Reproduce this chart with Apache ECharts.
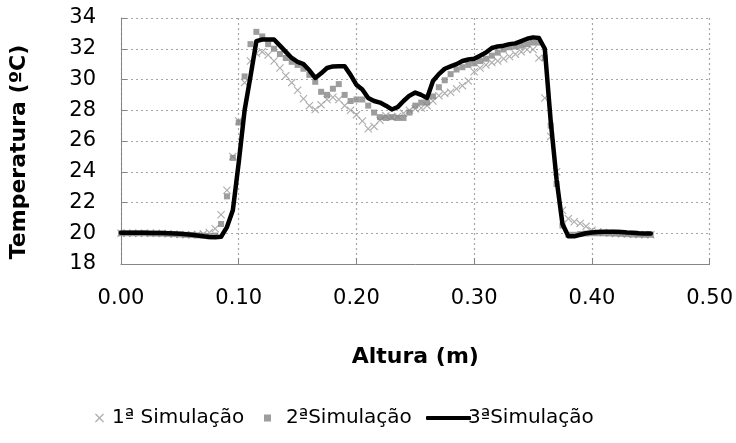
<!DOCTYPE html>
<html>
<head>
<meta charset="utf-8">
<script src="https://cdn.jsdelivr.net/npm/echarts@6/dist/echarts.min.js"></script>
<style>
  html, body { margin: 0; padding: 0; background: #fff; }
  #chart { width: 736px; height: 443px; }
</style>
</head>
<body>
<div id="chart"></div>
<script>
// Altura (m) sample positions
var alturas = [
  0.000, 0.005, 0.010, 0.015, 0.020, 0.025, 0.030, 0.035, 0.040, 0.045,
  0.050, 0.055, 0.060, 0.065, 0.070, 0.075, 0.080, 0.085, 0.090, 0.095,
  0.100, 0.105, 0.110, 0.115, 0.120, 0.125, 0.130, 0.135, 0.140, 0.145,
  0.150, 0.155, 0.160, 0.165, 0.170, 0.175, 0.180, 0.185, 0.190, 0.195,
  0.200, 0.205, 0.210, 0.215, 0.220, 0.225, 0.230, 0.235, 0.240, 0.245,
  0.250, 0.255, 0.260, 0.265, 0.270, 0.275, 0.280, 0.285, 0.290, 0.295,
  0.300, 0.305, 0.310, 0.315, 0.320, 0.325, 0.330, 0.335, 0.340, 0.345,
  0.350, 0.355, 0.360, 0.365, 0.370, 0.375, 0.380, 0.385, 0.390, 0.395,
  0.400, 0.405, 0.410, 0.415, 0.420, 0.425, 0.430, 0.435, 0.440, 0.445,
  0.450
];

// Temperatura (ºC) — 1ª Simulação
var sim1 = [
  20.00, 20.00, 20.00, 20.00, 20.00, 20.00, 20.00, 19.98, 19.96, 19.94,
  19.92, 19.90, 19.90, 19.92, 19.95, 20.05, 20.30, 21.20, 22.80, 25.00,
  27.30, 29.80, 31.20, 31.70, 31.80, 31.60, 31.20, 30.75, 30.25, 29.80,
  29.30, 28.75, 28.30, 28.05, 28.35, 28.70, 28.85, 28.70, 28.30, 28.00,
  27.70, 27.30, 26.80, 26.95, 27.35, 27.65, 27.55, 27.60, 27.80, 28.00,
  28.10, 28.15, 28.30, 28.60, 28.95, 29.10, 29.17, 29.40, 29.60, 29.90,
  30.50, 30.75, 30.95, 31.10, 31.20, 31.35, 31.50, 31.65, 31.80, 31.95,
  31.95, 31.40, 28.80, 26.30, 24.00, 21.50, 20.95, 20.75, 20.64, 20.45,
  20.20, 20.10, 20.05, 20.00, 19.98, 19.96, 19.95, 19.93, 19.92, 19.90,
  19.90
];

// Temperatura (ºC) — 2ªSimulação
var sim2 = [
  20.00, 20.00, 20.00, 20.00, 20.00, 19.99, 19.98, 19.97, 19.96, 19.94,
  19.92, 19.90, 19.88, 19.86, 19.84, 19.80, 19.85, 20.60, 22.40, 24.90,
  27.20, 30.20, 32.30, 33.10, 32.80, 32.30, 32.00, 31.66, 31.40, 31.15,
  30.95, 30.70, 30.30, 29.85, 29.20, 29.00, 29.40, 29.70, 29.00, 28.60,
  28.70, 28.70, 28.30, 27.85, 27.55, 27.50, 27.55, 27.50, 27.50, 27.85,
  28.30, 28.50, 28.50, 28.90, 29.50, 29.95, 30.35, 30.65, 30.80, 30.95,
  31.05, 31.20, 31.35, 31.55, 31.75, 31.95, 32.10, 32.15, 32.20, 32.30,
  32.40, 32.40, 31.40, 27.00, 23.20, 20.50, 19.90, 19.90, 19.95, 19.98,
  20.00, 20.00, 20.00, 19.99, 19.98, 19.96, 19.94, 19.92, 19.91, 19.90,
  19.90
];

// Temperatura (ºC) — 3ªSimulação
var sim3 = [
  20.03, 20.03, 20.03, 20.03, 20.03, 20.02, 20.02, 20.01, 20.00, 19.99,
  19.97, 19.94, 19.90, 19.85, 19.80, 19.76, 19.74, 19.77, 20.40, 21.50,
  24.60, 28.00, 30.20, 32.50, 32.60, 32.60, 32.60, 32.20, 31.80, 31.40,
  31.15, 31.00, 30.60, 30.10, 30.40, 30.75, 30.85, 30.86, 30.86, 30.30,
  29.65, 29.35, 28.80, 28.60, 28.50, 28.30, 28.05, 28.20, 28.60, 28.95,
  29.15, 29.00, 28.80, 29.90, 30.35, 30.70, 30.85, 31.00, 31.20, 31.30,
  31.35, 31.55, 31.75, 32.05, 32.15, 32.20, 32.30, 32.35, 32.50, 32.65,
  32.74, 32.70, 32.00, 27.30, 23.50, 20.60, 19.80, 19.80, 19.90, 20.00,
  20.05, 20.08, 20.10, 20.10, 20.10, 20.08, 20.05, 20.03, 20.00, 19.99,
  19.98
];

var nomes = ['1ª Simulação', '2ªSimulação', '3ªSimulação'];

function pares(ys) {
  return alturas.map(function (x, i) { return [x, ys[i]]; });
}

var FONT = '"DejaVu Sans", sans-serif';
var crossIcon = 'path://M0,1 L1,0 L5,4 L9,0 L10,1 L6,5 L10,9 L9,10 L5,6 L1,10 L0,9 L4,5 Z';

var chart = echarts.init(document.getElementById('chart'), null, { renderer: 'canvas' });

chart.setOption({
  animation: false,
  backgroundColor: '#ffffff',
  textStyle: { fontFamily: FONT },
  grid: { left: 113, right: 24, top: 18, bottom: 179, containLabel: false },
  xAxis: {
    type: 'value',
    min: 0, max: 0.5, interval: 0.1,
    name: 'Altura (m)',
    nameLocation: 'middle',
    nameGap: 82,
    nameTextStyle: { fontFamily: FONT, fontSize: 22, fontWeight: 'bold', color: '#000' },
    axisLine: { show: true, lineStyle: { color: '#868686', width: 1 } },
    axisTick: { show: true, inside: true, length: 6, lineStyle: { color: '#868686' } },
    axisLabel: {
      margin: 24, fontSize: 21, color: '#000', fontFamily: FONT,
      formatter: function (v) { return v.toFixed(2); }
    },
    splitLine: { show: true, lineStyle: { color: '#a6a6a6', type: [2, 3], width: 1.2 } }
  },
  yAxis: {
    type: 'value',
    min: 18, max: 34, interval: 2,
    name: 'Temperatura (ºC)',
    nameLocation: 'middle',
    nameGap: 91,
    nameTextStyle: { fontFamily: FONT, fontSize: 22, fontWeight: 'bold', color: '#000', padding: [0, 22, 0, 0] },
    axisLine: { show: true, lineStyle: { color: '#868686', width: 1 } },
    axisTick: { show: true, inside: true, length: 6, lineStyle: { color: '#868686' } },
    axisLabel: { margin: 25, fontSize: 21, color: '#000', fontFamily: FONT },
    splitLine: { show: true, lineStyle: { color: '#a6a6a6', type: [2, 3], width: 1.2 } }
  },
  legend: [
    {
      data: [{ name: nomes[0], icon: crossIcon }],
      left: 90, top: 403,
      itemWidth: 9, itemHeight: 9,
      textStyle: { fontFamily: FONT, fontSize: 20, color: '#000', padding: [0, 0, 0, 3] }
    },
    {
      data: [{ name: nomes[1], icon: 'rect' }],
      left: 259, top: 403,
      itemWidth: 7, itemHeight: 7,
      textStyle: { fontFamily: FONT, fontSize: 20, color: '#000', padding: [0, 0, 0, 10] }
    },
    {
      data: [{ name: nomes[2], icon: 'roundRect' }],
      left: 421, top: 403,
      itemWidth: 45, itemHeight: 4,
      textStyle: { fontFamily: FONT, fontSize: 20, color: '#000', padding: [0, 0, 0, -8] }
    }
  ],
  series: [
    {
      name: nomes[0],
      type: 'scatter',
      data: pares(sim1),
      symbol: crossIcon,
      symbolSize: 8,
      itemStyle: { color: '#9a9a9a' },
      z: 2
    },
    {
      name: nomes[1],
      type: 'scatter',
      data: pares(sim2),
      symbol: 'rect',
      symbolSize: 6,
      itemStyle: { color: '#858585' },
      z: 3
    },
    {
      name: nomes[2],
      type: 'line',
      data: pares(sim3),
      showSymbol: false,
      symbol: 'none',
      smooth: false,
      lineStyle: { color: '#000000', width: 4.5, cap: 'round', join: 'round' },
      itemStyle: { color: '#000000' },
      z: 4
    }
  ]
});
</script>
</body>
</html>
